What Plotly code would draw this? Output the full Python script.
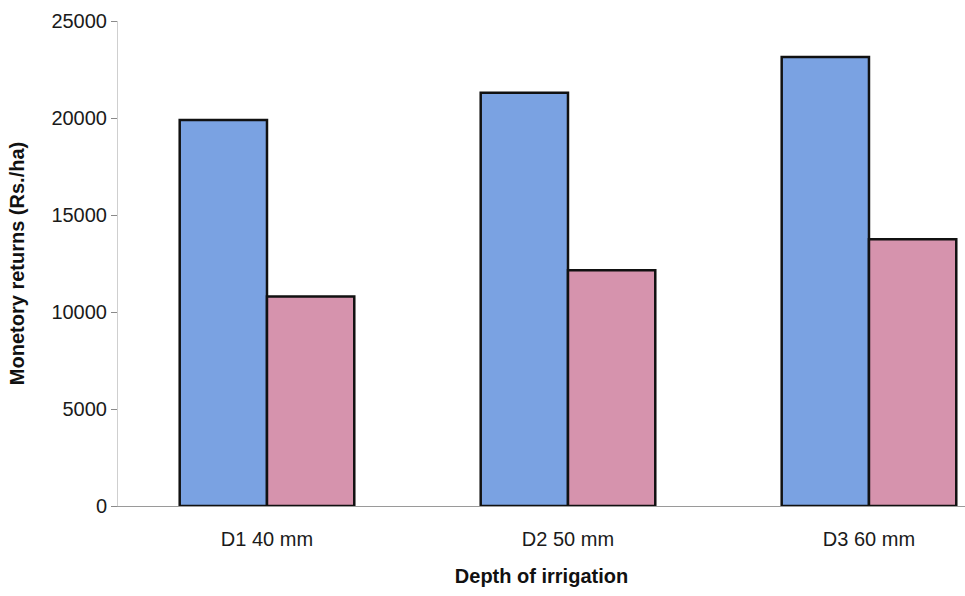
import plotly.graph_objects as go

categories = ["D1 40 mm", "D2 50 mm", "D3 60 mm"]
series_a = [19900, 21300, 23150]
series_b = [10800, 12150, 13750]
y_ticks = [0, 5000, 10000, 15000, 20000, 25000]

FONT = "Liberation Sans, Arial, sans-serif"

fig = go.Figure()
fig.add_trace(go.Bar(
    x=categories, y=series_a, name="Gross returns",
    marker=dict(color="#7aa2e2", line=dict(color="#111111", width=2.5)),
))
fig.add_trace(go.Bar(
    x=categories, y=series_b, name="Net returns",
    marker=dict(color="#d693ad", line=dict(color="#111111", width=2.5)),
))

fig.update_layout(
    width=965, height=596,
    margin=dict(l=118, r=0, t=21, b=90),
    paper_bgcolor="white", plot_bgcolor="white",
    barmode="group", bargap=0.42, bargroupgap=0,
    showlegend=False,
    font=dict(family=FONT, color="#1a1a1a", size=20),
)
fig.update_xaxes(
    type="category", range=[-0.495, 2.319],
    showline=True, linecolor="#9a9a9a", linewidth=1,
    ticks="", showgrid=False, zeroline=False,
    tickfont=dict(size=20, family=FONT, color="#1a1a1a"),
    ticklabelstandoff=15,
    title=dict(text="<b>Depth of irrigation</b>", font=dict(size=20, family=FONT, color="#111111"), standoff=19),
)
fig.update_yaxes(
    range=[0, 25000], tickvals=y_ticks, ticktext=[str(v) for v in y_ticks],
    showline=True, linecolor="#cfcfcf", linewidth=1,
    ticks="outside", ticklen=6, tickcolor="#8a8a8a",
    showgrid=False, zeroline=False,
    tickfont=dict(size=20, family=FONT, color="#1a1a1a"),
    title=dict(text="<b>Monetory returns (Rs./ha)</b>", font=dict(size=20, family=FONT, color="#111111"), standoff=21),
)

fig.write_html("out.html")
